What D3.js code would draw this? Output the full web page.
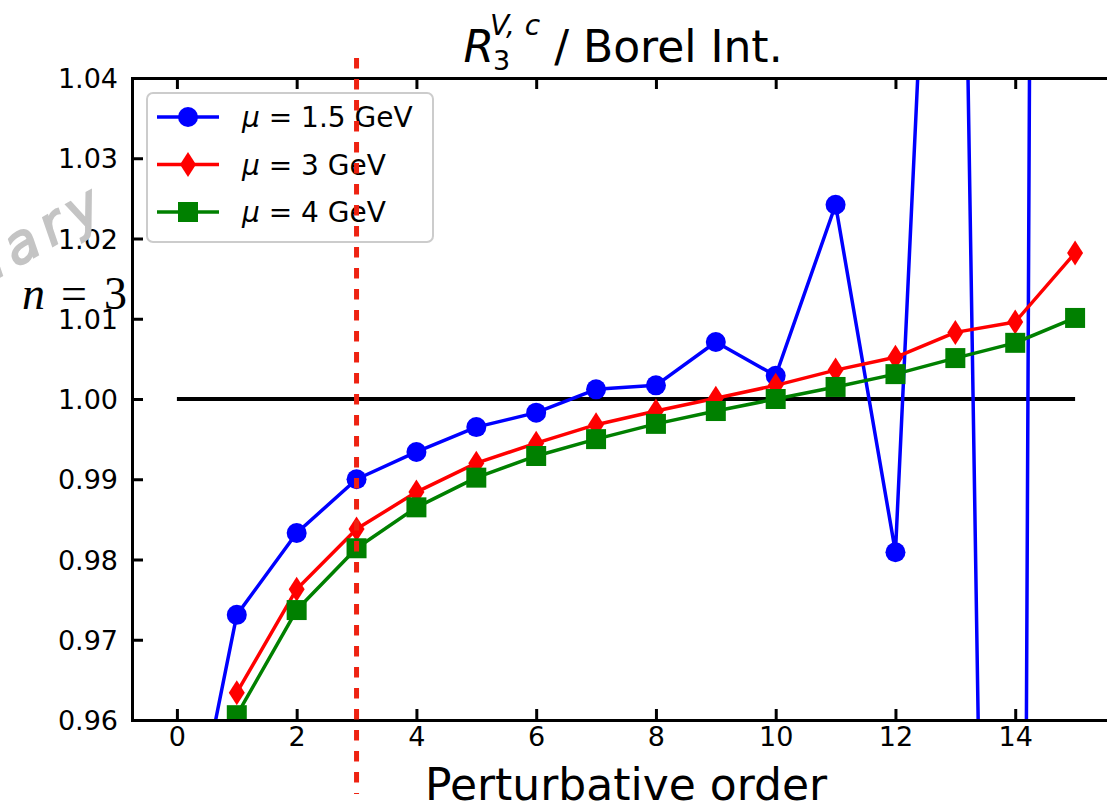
<!DOCTYPE html>
<html>
<head>
<meta charset="utf-8">
<script src="https://cdn.jsdelivr.net/npm/d3@7"></script>
<style>
  html, body { margin: 0; padding: 0; background: #fff; }
  svg { display: block; font-family: "DejaVu Sans", sans-serif; }
</style>
</head>
<body>
<svg id="chart" width="1107" height="809"></svg>
<script>
// Perturbative orders
const ordersLow = [0, 1, 2, 3, 4, 5, 6, 7, 8, 9, 10, 11, 12, 13, 14, 15];
const orders = [1, 2, 3, 4, 5, 6, 7, 8, 9, 10, 11, 12, 13, 14, 15];

// Ratio to the Borel integral for each renormalization scale
const mu15Values = [0.936, 0.9731, 0.9833, 0.9900, 0.9934, 0.9965, 0.9983, 1.0012, 1.0017,
                    1.0071, 1.0029, 1.0242, 0.9809, 1.140, 0.668, 2.23];
const mu3Values = [0.9634, 0.9763, 0.9838, 0.9884, 0.9920, 0.9945, 0.9968, 0.9985, 1.0001,
                   1.0017, 1.0036, 1.0052, 1.0083, 1.0096, 1.0182];
const mu4Values = [0.9606, 0.9737, 0.9814, 0.9865, 0.9902, 0.9929, 0.9950, 0.9969, 0.9985,
                   1.0000, 1.0015, 1.0031, 1.0051, 1.0070, 1.0101];

const seriesLabels = ["1.5 GeV", "3 GeV", "4 GeV"];
const xTicks = [0, 2, 4, 6, 8, 10, 12, 14];
const yTicks = [0.96, 0.97, 0.98, 0.99, 1.00, 1.01, 1.02, 1.03, 1.04];
const referenceLine = { from: 0, to: 15, value: 1.0 };
const chosenOrder = 3;

const svg = d3.select("#chart");
const plot = { left: 132, right: 1120, top: 78, bottom: 720 };

const x = d3.scaleLinear().domain([-0.75, 15.75]).range([plot.left, plot.right]);
const y = d3.scaleLinear().domain([0.96, 1.04]).range([plot.bottom, plot.top]);

svg.append("defs").append("clipPath").attr("id", "plot-clip")
  .append("rect")
  .attr("x", plot.left).attr("y", plot.top)
  .attr("width", plot.right - plot.left).attr("height", plot.bottom - plot.top);

const data = svg.append("g").attr("clip-path", "url(#plot-clip)");

// reference line at unity
data.append("line")
  .attr("x1", x(referenceLine.from)).attr("x2", x(referenceLine.to))
  .attr("y1", y(referenceLine.value)).attr("y2", y(referenceLine.value))
  .attr("stroke", "#000").attr("stroke-width", 4);

const markerPaths = {
  diamond: "M0,-12.5L8,0L0,12.5L-8,0Z",
  square: "M-10,-10H10V10H-10Z"
};

const series = [
  { xs: ordersLow, ys: mu15Values, color: "#0000ff", marker: "circle" },
  { xs: orders, ys: mu3Values, color: "#ff0000", marker: "diamond" },
  { xs: orders, ys: mu4Values, color: "#008000", marker: "square" }
];

function drawMarker(sel, s) {
  if (s.marker === "circle") {
    sel.append("circle").attr("r", 10).attr("fill", s.color);
  } else {
    sel.append("path").attr("d", markerPaths[s.marker]).attr("fill", s.color);
  }
}

const line = d3.line().x(d => x(d[0])).y(d => y(d[1]));
series.forEach(s => {
  const pts = s.xs.map((v, i) => [v, s.ys[i]]);
  const g = data.append("g");
  g.append("path").attr("d", line(pts))
    .attr("fill", "none").attr("stroke", s.color)
    .attr("stroke-width", 3.5).attr("stroke-linejoin", "round");
  pts.forEach(p => {
    const m = g.append("g").attr("transform", `translate(${x(p[0])},${y(p[1])})`);
    drawMarker(m, s);
  });
});

// axes (ticks pointing inward on all four sides)
const tickLen = 11;
const axes = svg.append("g");
const yAxisL = d3.axisLeft(y).tickValues(yTicks).tickFormat(d3.format(".2f"))
  .tickSizeInner(-tickLen).tickSizeOuter(0).tickPadding(14);
const yAxisR = d3.axisRight(y).tickValues(yTicks).tickFormat("")
  .tickSizeInner(-tickLen).tickSizeOuter(0);
const xAxisB = d3.axisBottom(x).tickValues(xTicks).tickFormat(d3.format("d"))
  .tickSizeInner(-tickLen).tickSizeOuter(0).tickPadding(26);
const xAxisT = d3.axisTop(x).tickValues(xTicks).tickFormat("")
  .tickSizeInner(-tickLen).tickSizeOuter(0);

function styleAxis(g) {
  g.attr("font-family", null).attr("font-size", null);
  g.select(".domain").attr("stroke", "#000").attr("stroke-width", 3)
    .attr("stroke-linecap", "square");
  g.selectAll(".tick line").attr("stroke", "#000").attr("stroke-width", 3);
  g.selectAll(".tick text").style("font-family", "DejaVu Sans")
    .style("font-size", "27px").attr("fill", "#000");
}
const gyL = axes.append("g").attr("transform", `translate(${plot.left},0)`).call(yAxisL).call(styleAxis);
axes.append("g").attr("transform", `translate(${plot.right},0)`).call(yAxisR).call(styleAxis);
const gxB = axes.append("g").attr("transform", `translate(0,${plot.bottom})`).call(xAxisB).call(styleAxis);
axes.append("g").attr("transform", `translate(0,${plot.top})`).call(xAxisT).call(styleAxis);
gyL.selectAll(".tick text").attr("dy", "0.36em");
gxB.selectAll(".tick text").attr("dy", "0em");

// x axis title
svg.append("text")
  .attr("x", (plot.left + plot.right) / 2).attr("y", 800)
  .attr("text-anchor", "middle").style("font-size", "44px").attr("fill", "#000")
  .text("Perturbative order");

// chart title with math label
const title = svg.append("g");
const tBase = 62;
const tR = title.append("text").attr("x", 0).attr("y", tBase)
  .style("font-size", "44px").style("font-style", "italic").text("R");
const wR = tR.node().getComputedTextLength();
const tSup = title.append("text").attr("x", wR - 4).attr("y", tBase - 27)
  .style("font-size", "28px").style("font-style", "italic");
tSup.append("tspan").text("V,");
tSup.append("tspan").attr("dx", 10).text("c");
const tSub = title.append("text").attr("x", wR - 1).attr("y", tBase + 8)
  .style("font-size", "27px").text("3");
const wScript = Math.max(wR - 4 + tSup.node().getComputedTextLength() + 10,
                         wR - 1 + tSub.node().getComputedTextLength());
const tRest = title.append("text").attr("x", wScript).attr("y", tBase)
  .style("font-size", "44px").attr("xml:space", "preserve").text(" / Borel Int.");
const tWidth = wScript + tRest.node().getComputedTextLength();
title.attr("transform", `translate(${(plot.left + plot.right) / 2 - tWidth / 2 - 3},0)`);

// order-count annotation
const nLabel = svg.append("text").attr("y", 309)
  .style("font-family", "'Liberation Serif', serif")
  .style("font-size", "46px").attr("fill", "#000");
nLabel.append("tspan").attr("x", 22).style("font-style", "italic").text("n");
nLabel.append("tspan").attr("x", 61).text("=");
nLabel.append("tspan").attr("x", 104).text("3");

// watermark
svg.append("text")
  .attr("transform", "translate(112,212) rotate(-30)")
  .attr("text-anchor", "end")
  .style("font-size", "54px").style("font-style", "italic")
  .style("letter-spacing", "8px")
  .attr("fill", "#c4c4c4").attr("stroke", "#c4c4c4").attr("stroke-width", 2)
  .text("Preliminary");

// legend
const legend = svg.append("g");
legend.append("rect")
  .attr("x", 147).attr("y", 93).attr("width", 286).attr("height", 149)
  .attr("rx", 6).attr("fill", "#fff").attr("fill-opacity", 0.8)
  .attr("stroke", "#cccccc").attr("stroke-width", 2);
series.forEach((s, i) => {
  const cy = 117 + i * 47.5;
  const row = legend.append("g");
  row.append("line").attr("x1", 157).attr("x2", 219).attr("y1", cy).attr("y2", cy)
    .attr("stroke", s.color).attr("stroke-width", 3.5);
  drawMarker(row.append("g").attr("transform", `translate(188,${cy})`), s);
  const t = row.append("text").attr("x", 242).attr("y", cy + 10)
    .style("font-size", "28px").attr("fill", "#000").attr("xml:space", "preserve");
  t.append("tspan").style("font-style", "italic").text("μ");
  t.append("tspan").text(" = " + seriesLabels[i]);
});

// chosen truncation order
svg.append("line")
  .attr("x1", x(chosenOrder)).attr("x2", x(chosenOrder))
  .attr("y1", 58).attr("y2", 794)
  .attr("stroke", "#ee2211").attr("stroke-width", 5)
  .attr("stroke-dasharray", "10.5 10.5");
</script>
</body>
</html>
